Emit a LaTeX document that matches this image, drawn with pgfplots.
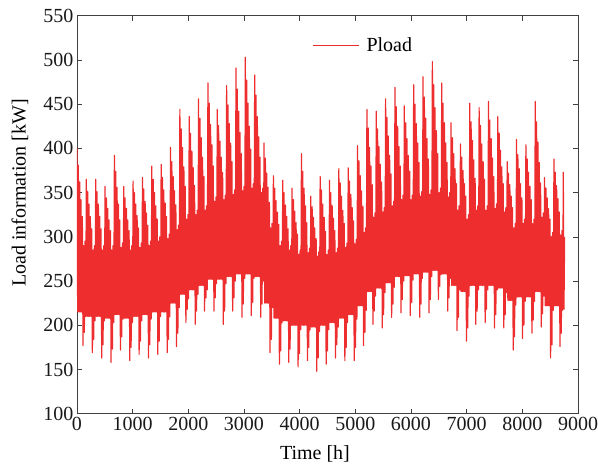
\documentclass[border=0pt]{standalone}
\usepackage{fontspec}
\setmainfont{Liberation Serif}
\usepackage{pgfplots}
\pgfplotsset{compat=1.18}
\definecolor{loadred}{RGB}{238,46,46}
\begin{document}
\begin{tikzpicture}[font=\fontsize{20}{24}\selectfont]
\begin{axis}[
  scale only axis, width=501pt, height=398pt,
  xmin=0, xmax=9000, ymin=100, ymax=550,
  xtick={0,1000,...,9000}, ytick={100,150,...,550},
  tick align=inside, tick pos=both, major tick length=5pt,
  /pgf/number format/1000 sep={},
  /pgf/number format/assume math mode=true,
  tick label style={font=\fontsize{20}{24}\selectfont, text=black!90},
  axis line style={black!75, line width=0.6pt},
  every tick/.style={black!75, line width=0.6pt},
  xlabel={Time [h]}, ylabel={Load information [kW]},
  every axis x label/.style={at={(axis description cs:0.475,-0.101)}, anchor=center, font=\fontsize{20}{24}\selectfont},
  every axis y label/.style={at={(axis description cs:-0.114,0.555)}, rotate=90, anchor=center, font=\fontsize{20}{24}\selectfont},
  legend style={draw=none, fill=none, at={(axis description cs:0.469,0.925)}, anchor=west, inner sep=0pt, font=\fontsize{20}{24}\selectfont, /tikz/every odd column/.append style={column sep=5pt}},
  legend image code/.code={\pgfsetstrokecolor{loadred}\pgfsetlinewidth{1.4pt}\pgfpathmoveto{\pgfpointorigin}\pgfpathlineto{\pgfpoint{46pt}{0pt}}\pgfusepath{stroke}},
]
\addplot[loadred, line width=1.2pt, line join=round, no markers] table[row sep=\\, header=false, y index=0, x expr=\coordindex*12] {
400\\215\\381\\215\\362\\215\\342\\215\\323\\177\\290\\192\\295\\210\\
365\\210\\351\\210\\337\\210\\323\\210\\309\\169\\285\\184\\290\\205\\
365\\210\\351\\210\\337\\210\\323\\210\\309\\163\\285\\178\\290\\205\\
357\\208\\344\\208\\332\\208\\319\\208\\307\\158\\285\\173\\290\\203\\
392\\212\\374\\212\\356\\212\\337\\212\\319\\172\\288\\187\\293\\207\\
357\\208\\344\\208\\332\\208\\319\\208\\307\\160\\285\\175\\290\\203\\
363\\210\\350\\210\\337\\210\\324\\210\\310\\167\\288\\182\\293\\205\\
367\\212\\354\\212\\340\\212\\327\\212\\313\\163\\290\\178\\295\\207\\
380\\215\\365\\215\\350\\215\\335\\215\\320\\167\\295\\182\\300\\210\\
382\\215\\367\\215\\353\\215\\338\\215\\323\\169\\298\\184\\303\\210\\
401\\225\\385\\225\\368\\225\\352\\225\\336\\176\\308\\191\\313\\220\\
444\\235\\422\\235\\401\\235\\379\\235\\357\\203\\320\\218\\325\\230\\
436\\240\\417\\240\\397\\240\\378\\240\\358\\201\\325\\216\\330\\235\\
456\\245\\434\\245\\412\\245\\390\\245\\368\\216\\330\\231\\335\\240\\
474\\252\\451\\252\\427\\252\\404\\252\\380\\216\\340\\231\\345\\247\\
444\\252\\426\\252\\408\\252\\390\\252\\373\\201\\342\\216\\347\\247\\
471\\255\\449\\255\\428\\255\\406\\255\\385\\216\\348\\231\\353\\250\\
491\\258\\467\\258\\442\\258\\418\\258\\394\\209\\352\\224\\357\\253\\
503\\258\\477\\258\\451\\258\\425\\258\\399\\211\\355\\226\\360\\253\\
483\\255\\460\\255\\436\\255\\413\\255\\390\\209\\350\\224\\355\\250\\
406\\225\\389\\225\\372\\225\\356\\225\\339\\169\\310\\184\\315\\220\\
369\\208\\355\\208\\341\\208\\328\\208\\314\\156\\290\\171\\295\\203\\
364\\205\\350\\205\\336\\205\\323\\205\\309\\158\\285\\173\\290\\200\\
355\\200\\342\\200\\329\\200\\316\\200\\303\\153\\280\\168\\285\\195\\
394\\200\\374\\200\\355\\200\\335\\200\\316\\160\\282\\175\\287\\195\\
346\\198\\334\\198\\322\\198\\310\\198\\298\\148\\278\\163\\283\\193\\
368\\200\\353\\200\\337\\200\\322\\200\\306\\156\\280\\171\\285\\195\\
364\\203\\350\\203\\335\\203\\321\\203\\307\\163\\282\\178\\287\\198\\
377\\208\\361\\208\\346\\208\\330\\208\\315\\160\\288\\175\\293\\203\\
378\\212\\363\\212\\348\\212\\333\\212\\318\\160\\292\\175\\297\\207\\
403\\222\\386\\222\\369\\222\\352\\222\\334\\177\\305\\192\\310\\217\\
444\\238\\423\\238\\401\\238\\380\\238\\359\\201\\322\\216\\327\\233\\
442\\242\\422\\242\\402\\242\\382\\242\\362\\197\\328\\212\\333\\237\\
456\\248\\435\\248\\414\\248\\392\\248\\371\\209\\335\\224\\340\\243\\
469\\255\\447\\255\\425\\255\\402\\255\\380\\214\\342\\229\\347\\250\\
448\\256\\429\\256\\411\\256\\392\\256\\374\\211\\342\\226\\347\\251\\
472\\258\\450\\258\\428\\258\\406\\258\\384\\209\\346\\224\\351\\253\\
481\\260\\458\\260\\434\\260\\411\\260\\388\\214\\348\\229\\353\\255\\
498\\262\\472\\262\\446\\262\\420\\262\\394\\229\\350\\244\\355\\257\\
474\\258\\451\\258\\429\\258\\406\\258\\384\\216\\345\\231\\350\\253\\
429\\245\\412\\245\\394\\245\\377\\245\\360\\194\\330\\209\\335\\240\\
405\\238\\390\\238\\375\\238\\360\\238\\346\\182\\320\\197\\325\\233\\
451\\245\\430\\245\\409\\245\\387\\245\\366\\201\\330\\216\\335\\240\\
446\\245\\426\\245\\405\\245\\385\\245\\365\\203\\330\\218\\335\\240\\
453\\245\\432\\245\\411\\245\\389\\245\\368\\197\\332\\212\\337\\240\\
436\\242\\417\\242\\398\\242\\379\\242\\360\\197\\328\\212\\333\\237\\
385\\228\\372\\228\\359\\228\\346\\228\\333\\172\\310\\187\\315\\223\\
410\\232\\393\\232\\377\\232\\360\\232\\344\\185\\315\\200\\320\\227\\
404\\232\\388\\232\\373\\232\\357\\232\\342\\191\\315\\206\\320\\227\\
453\\238\\430\\238\\407\\238\\384\\238\\361\\198\\322\\213\\327\\233\\
367\\222\\355\\222\\344\\222\\332\\222\\320\\163\\300\\178\\305\\217\\
388\\222\\373\\222\\358\\222\\343\\222\\328\\176\\302\\191\\307\\217\\
373\\218\\300\\
};
\addlegendentry{Pload}
\end{axis}
\pgfresetboundingbox
\path ([xshift=-77pt,yshift=-52pt]current axis.south west) rectangle ([xshift=20pt,yshift=15.7pt]current axis.north east);
\end{tikzpicture}
\end{document}
